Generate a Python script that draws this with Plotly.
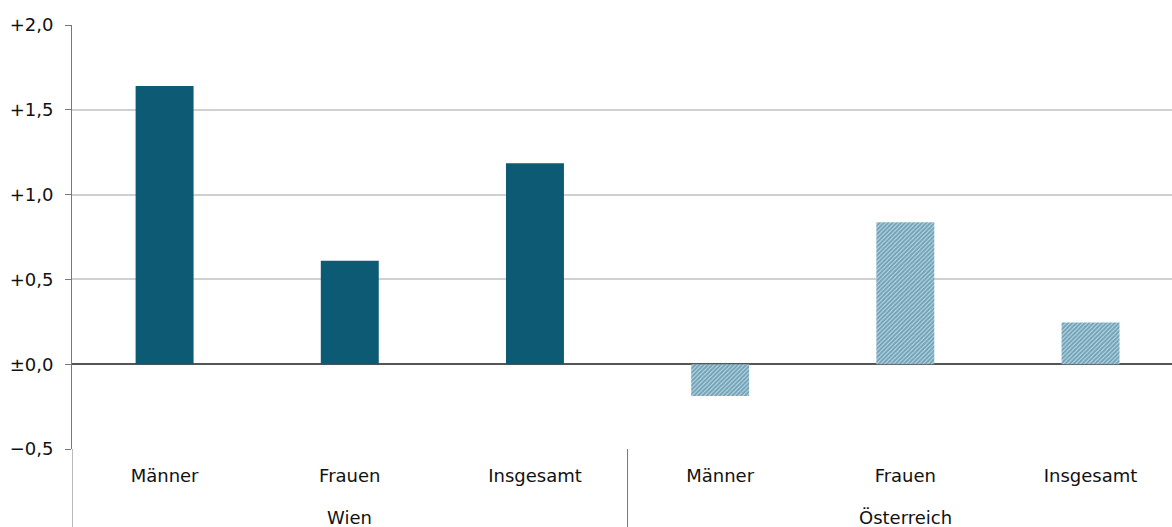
import plotly.graph_objects as go

groups = ["Wien", "Österreich"]
categories = ["Männer", "Frauen", "Insgesamt"]
wien_values = [1.64, 0.61, 1.185]
oesterreich_values = [-0.187, 0.837, 0.246]
y_tickvals = [-0.5, 0.0, 0.5, 1.0, 1.5, 2.0]
y_ticktext = ["\u22120,5", "±0,0", "+0,5", "+1,0", "+1,5", "+2,0"]

FONT = "'DejaVu Sans', sans-serif"
TXT = "#111111"

n = len(categories)
x_wien = list(range(n))
x_oe = list(range(n, 2 * n))

fig = go.Figure()
fig.add_trace(go.Bar(
    x=x_wien, y=wien_values, width=0.313,
    marker=dict(color="#0c5a74", line=dict(width=0)),
    showlegend=False,
))
fig.add_trace(go.Bar(
    x=x_oe, y=oesterreich_values, width=0.313,
    marker=dict(
        color="#c8e0ea", line=dict(width=0),
        pattern=dict(shape="/", fgcolor="#1a6685", bgcolor="#c8e0ea", size=3, solidity=0.7),
    ),
    showlegend=False,
))

plot_h = 527 - 25 - 78
below = 78 / plot_h

# group labels and dividers
for gi, g in enumerate(groups):
    fig.add_annotation(
        x=gi * n + (n - 1) / 2, xref="x",
        y=-(517 - 449) / plot_h, yref="paper",
        text=g, showarrow=False, yanchor="middle",
        font=dict(family=FONT, size=18, color=TXT),
    )
    fig.add_shape(
        type="line", xref="x", yref="paper",
        x0=gi * n - 0.5, x1=gi * n - 0.5, y0=0, y1=-below,
        line=dict(color="#777777", width=1),
    )

fig.update_layout(
    width=1172, height=527,
    margin=dict(l=72, r=0, t=25, b=78),
    paper_bgcolor="white", plot_bgcolor="white",
    barmode="overlay",
    font=dict(family=FONT, size=18, color=TXT),
)
fig.update_xaxes(
    range=[-0.5, 5.44],
    tickvals=x_wien + x_oe,
    ticktext=categories * 2,
    showline=False, showgrid=False, zeroline=False,
    ticks="", ticklabelstandoff=14,
    tickfont=dict(family=FONT, size=18, color=TXT),
)
fig.update_yaxes(
    range=[-0.5, 2.0],
    tickvals=y_tickvals,
    ticktext=y_ticktext,
    showgrid=True, gridcolor="#d0d0d0", gridwidth=2,
    zeroline=True, zerolinecolor="#555555", zerolinewidth=1.5,
    showline=True, linecolor="#777777", linewidth=1,
    ticks="outside", ticklen=6, tickcolor="#777777",
    ticklabelstandoff=8,
    tickfont=dict(family=FONT, size=18, color=TXT),
)

fig.write_html("out.html")
